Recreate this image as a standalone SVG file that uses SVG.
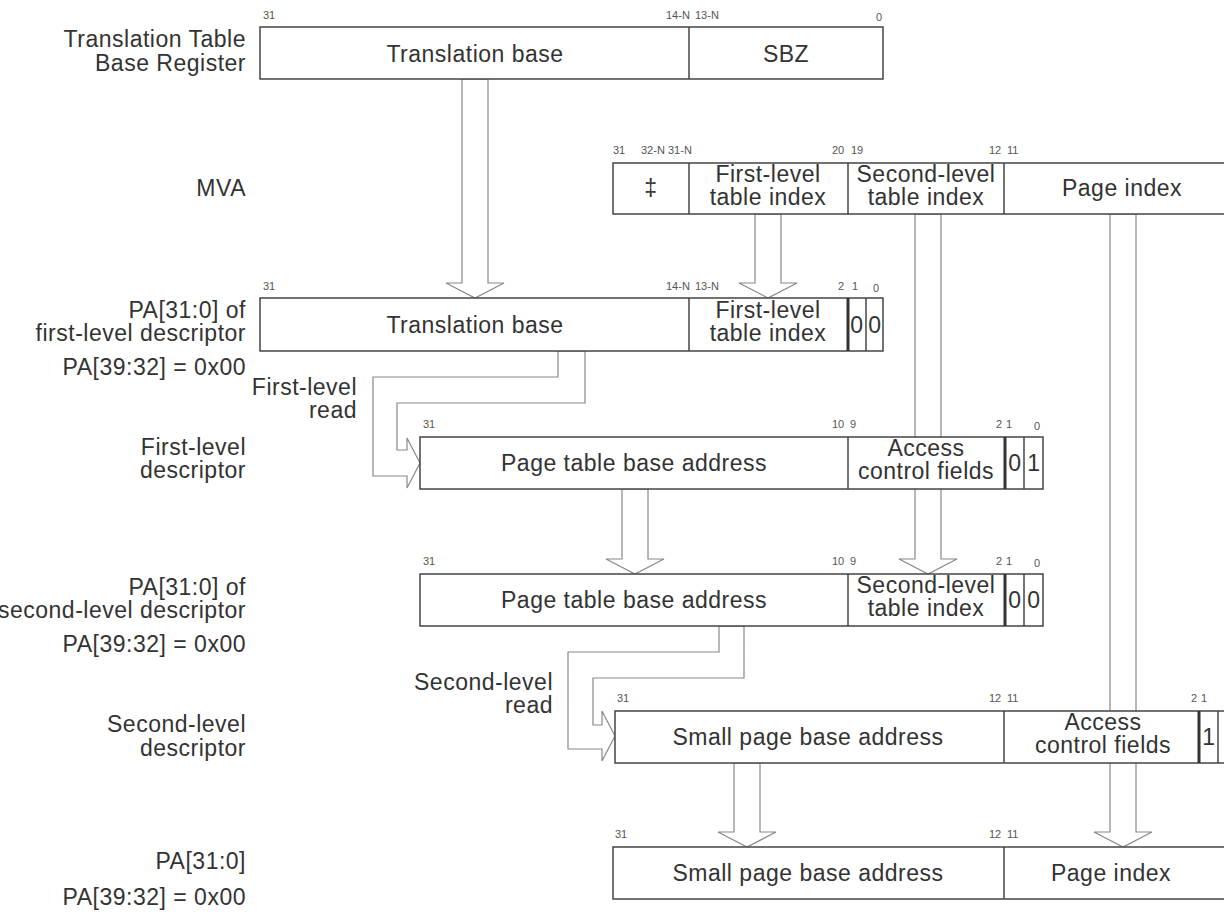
<svg xmlns="http://www.w3.org/2000/svg" width="1224" height="920" viewBox="0 0 1224 920">
<style>
.t{font-family:"Liberation Sans",Arial,sans-serif;font-size:23px;letter-spacing:0.5px;fill:#333}
.l{text-anchor:end}
.c{text-anchor:middle}
.b{font-family:"Liberation Sans",Arial,sans-serif;font-size:11px;fill:#555}
.box{fill:#fff;stroke:#444;stroke-width:1.5}
.div{stroke:#444;stroke-width:1.5}
.thick{stroke:#333;stroke-width:3}
.arr{fill:#fff;stroke:#888;stroke-width:1.2}
</style>
<rect width="1224" height="920" fill="#fff"/>
<g id="connectors">
<polygon class="arr" points="462,79 462,283 446,283 475,298 504,283 488,283 488,79"/>
<polygon class="arr" points="755,214 755,283 739,283 768,298 797,283 781,283 781,214"/>
<polygon class="arr" points="915,214 915,559 899,559 928,574 957,559 941,559 941,214"/>
<polygon class="arr" points="1110,214 1110,832 1094,832 1123,847 1152,832 1136,832 1136,214"/>
<polygon class="arr" points="622,489 622,559 606,559 635,574 664,559 648,559 648,489"/>
<polygon class="arr" points="734,763 734,832 718,832 747,847 776,832 760,832 760,763"/>
<polygon class="arr" points="558,351 558,377 373,377 373,476 407,476 407,488 420,463 407,438 407,450 397,450 397,403 585,403 585,351"/>
<polygon class="arr" points="719,626 719,652 568,652 568,749 602,749 602,761 615,736 602,711 602,725 593,725 593,678 744,678 744,626"/>
</g>
<g id="labels">
<text class="t l" x="246" y="47">Translation Table</text>
<text class="t l" x="246" y="71">Base Register</text>
<text class="t l" x="246" y="196">MVA</text>
<text class="t l" x="246" y="318">PA[31:0] of</text>
<text class="t l" x="246" y="341">first-level descriptor</text>
<text class="t l" x="246" y="375">PA[39:32] = 0x00</text>
<text class="t l" x="357" y="395">First-level</text>
<text class="t l" x="357" y="418">read</text>
<text class="t l" x="246" y="455">First-level</text>
<text class="t l" x="246" y="478">descriptor</text>
<text class="t l" x="246" y="595">PA[31:0] of</text>
<text class="t l" x="246" y="618">second-level descriptor</text>
<text class="t l" x="246" y="652">PA[39:32] = 0x00</text>
<text class="t l" x="553" y="690">Second-level</text>
<text class="t l" x="553" y="713">read</text>
<text class="t l" x="246" y="732">Second-level</text>
<text class="t l" x="246" y="756">descriptor</text>
<text class="t l" x="246" y="869">PA[31:0]</text>
<text class="t l" x="246" y="905">PA[39:32] = 0x00</text>
</g>
<g id="ttbr">
<rect class="box" x="260" y="27" width="623" height="52"/>
<line class="div" x1="689" y1="27" x2="689" y2="79"/>
<text class="t c" x="475" y="62">Translation base</text>
<text class="t c" x="786" y="62">SBZ</text>
<text class="b" x="263" y="19">31</text>
<text class="b" x="666" y="19">14-N</text>
<text class="b" x="695" y="19">13-N</text>
<text class="b" x="876" y="21">0</text>
</g>
<g id="mva">
<rect class="box" x="613" y="163" width="623" height="51"/>
<line class="div" x1="689" y1="163" x2="689" y2="214"/>
<line class="div" x1="848" y1="163" x2="848" y2="214"/>
<line class="div" x1="1004" y1="163" x2="1004" y2="214"/>
<text class="t c" x="651" y="196">‡</text>
<text class="t c" x="768" y="182">First-level</text>
<text class="t c" x="768" y="205">table index</text>
<text class="t c" x="926" y="182">Second-level</text>
<text class="t c" x="926" y="205">table index</text>
<text class="t c" x="1122" y="196">Page index</text>
<text class="b" x="613" y="154">31</text>
<text class="b" x="641" y="154">32-N</text>
<text class="b" x="668" y="154">31-N</text>
<text class="b" x="832" y="154">20</text>
<text class="b" x="851" y="154">19</text>
<text class="b" x="989" y="154">12</text>
<text class="b" x="1007" y="154">11</text>
</g>
<g id="pa-first">
<rect class="box" x="260" y="298" width="623" height="53"/>
<line class="div" x1="689" y1="298" x2="689" y2="351"/>
<line class="thick" x1="848" y1="298" x2="848" y2="351"/>
<line class="div" x1="866" y1="298" x2="866" y2="351"/>
<text class="t c" x="475" y="333">Translation base</text>
<text class="t c" x="768" y="318">First-level</text>
<text class="t c" x="768" y="341">table index</text>
<text class="t c" x="857" y="333">0</text>
<text class="t c" x="875" y="333">0</text>
<text class="b" x="263" y="290">31</text>
<text class="b" x="666" y="290">14-N</text>
<text class="b" x="695" y="290">13-N</text>
<text class="b" x="838" y="290">2</text>
<text class="b" x="852" y="290">1</text>
<text class="b" x="873" y="292">0</text>
</g>
<g id="fld">
<rect class="box" x="420" y="437" width="623" height="52"/>
<line class="div" x1="848" y1="437" x2="848" y2="489"/>
<line class="thick" x1="1005" y1="437" x2="1005" y2="489"/>
<line class="div" x1="1024" y1="437" x2="1024" y2="489"/>
<text class="t c" x="634" y="471">Page table base address</text>
<text class="t c" x="926" y="456">Access</text>
<text class="t c" x="926" y="479">control fields</text>
<text class="t c" x="1015" y="471">0</text>
<text class="t c" x="1034" y="471">1</text>
<text class="b" x="423" y="428">31</text>
<text class="b" x="832" y="428">10</text>
<text class="b" x="850" y="428">9</text>
<text class="b" x="996" y="428">2</text>
<text class="b" x="1006" y="428">1</text>
<text class="b" x="1034" y="430">0</text>
</g>
<g id="pa-second">
<rect class="box" x="420" y="574" width="623" height="52"/>
<line class="div" x1="848" y1="574" x2="848" y2="626"/>
<line class="thick" x1="1005" y1="574" x2="1005" y2="626"/>
<line class="div" x1="1024" y1="574" x2="1024" y2="626"/>
<text class="t c" x="634" y="608">Page table base address</text>
<text class="t c" x="926" y="593">Second-level</text>
<text class="t c" x="926" y="616">table index</text>
<text class="t c" x="1015" y="608">0</text>
<text class="t c" x="1034" y="608">0</text>
<text class="b" x="423" y="565">31</text>
<text class="b" x="832" y="565">10</text>
<text class="b" x="850" y="565">9</text>
<text class="b" x="996" y="565">2</text>
<text class="b" x="1006" y="565">1</text>
<text class="b" x="1034" y="567">0</text>
</g>
<g id="sld">
<rect class="box" x="615" y="711" width="623" height="52"/>
<line class="div" x1="1004" y1="711" x2="1004" y2="763"/>
<line class="thick" x1="1199" y1="711" x2="1199" y2="763"/>
<line class="div" x1="1218" y1="711" x2="1218" y2="763"/>
<text class="t c" x="808" y="745">Small page base address</text>
<text class="t c" x="1103" y="730">Access</text>
<text class="t c" x="1103" y="753">control fields</text>
<text class="t c" x="1209" y="745">1</text>
<text class="b" x="617" y="702">31</text>
<text class="b" x="989" y="702">12</text>
<text class="b" x="1007" y="702">11</text>
<text class="b" x="1191" y="702">2</text>
<text class="b" x="1201" y="702">1</text>
</g>
<g id="pa">
<rect class="box" x="613" y="847" width="623" height="52"/>
<line class="div" x1="1004" y1="847" x2="1004" y2="899"/>
<text class="t c" x="808" y="881">Small page base address</text>
<text class="t c" x="1111" y="881">Page index</text>
<text class="b" x="615" y="838">31</text>
<text class="b" x="989" y="838">12</text>
<text class="b" x="1007" y="838">11</text>
</g>
</svg>
